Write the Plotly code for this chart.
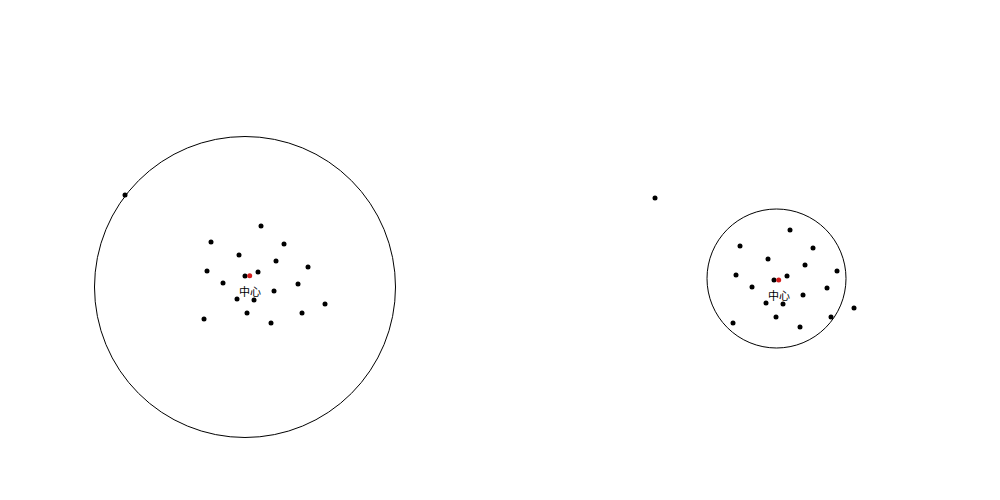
import plotly.graph_objects as go

# Pixel-like coordinate space (x right, y down)
left_x = [261, 211, 284, 239, 276, 308, 207, 258, 245, 223, 298, 274, 237, 254, 325, 247, 302, 204, 271, 125]
left_y = [226, 242, 244, 255, 261, 267, 271, 272, 276, 283, 284, 291, 299, 300, 304, 313, 313, 319, 323, 195]
right_x = [790, 740, 813, 768, 805, 837, 736, 787, 774, 752, 827, 803, 766, 783, 854, 776, 831, 733, 800, 655]
right_y = [230, 246, 248, 259, 265, 271, 275, 276, 280, 287, 288, 295, 303, 304, 308, 317, 317, 323, 327, 198]

center_x = [249.7, 778.7]
center_y = [275.7, 280]
center_labels = ["中心", "中心"]

circle_cx = [245, 776.5]
circle_cy = [287, 278.5]
circle_r = [150.5, 69.5]

fig = go.Figure()
fig.add_trace(go.Scatter(x=left_x + right_x, y=left_y + right_y, mode="markers",
                         marker=dict(color="black", size=5, symbol="circle"),
                         hoverinfo="skip", showlegend=False))
fig.add_trace(go.Scatter(x=center_x, y=center_y, mode="markers",
                         marker=dict(color="#d41c1c", size=5),
                         hoverinfo="skip", showlegend=False))

for cx, cy, label in zip(center_x, center_y, center_labels):
    fig.add_annotation(x=cx, y=cy, text=label, showarrow=False, yshift=-15,
                       font=dict(family="Noto Sans CJK SC", size=11, color="black"))

for cx, cy, r in zip(circle_cx, circle_cy, circle_r):
    fig.add_shape(type="circle", xref="x", yref="y",
                  x0=cx - r, x1=cx + r, y0=cy - r, y1=cy + r,
                  line=dict(color="black", width=1), layer="below")

fig.update_layout(
    width=1000, height=500,
    margin=dict(l=0, r=0, t=0, b=0),
    paper_bgcolor="white", plot_bgcolor="white",
    xaxis=dict(range=[0, 1000], visible=False, fixedrange=True),
    yaxis=dict(range=[500, 0], visible=False, fixedrange=True),
)
fig.write_html("out.html")
